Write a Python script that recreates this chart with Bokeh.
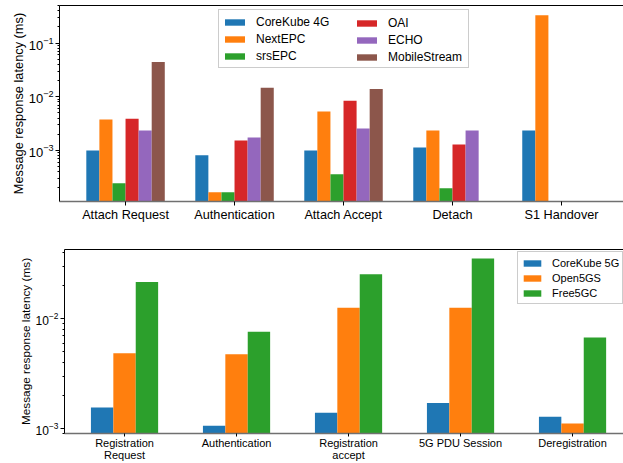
import numpy as np
from bokeh.plotting import figure
from bokeh.models import (ColumnDataSource, Range1d, FixedTicker, LinearAxis,
                          LogTickFormatter, Legend, LegendItem)
from bokeh.transform import dodge
from bokeh.embed import file_html
from bokeh.resources import INLINE

NaN = float("nan")

# ---- 4G data ----
procedures_4g = ["Attach Request", "Authentication", "Attach Accept", "Detach", "S1 Handover"]
corekube_4g = [1.0e-3, 8.1e-4, 1.0e-3, 1.14e-3, 2.35e-3]
nextepc = [3.75e-3, 1.67e-4, 5.3e-3, 2.35e-3, 0.33]
srsepc = [2.45e-4, 1.67e-4, 3.6e-4, 1.98e-4, NaN]
oai = [3.9e-3, 1.53e-3, 8.4e-3, 1.29e-3, NaN]
echo = [2.35e-3, 1.74e-3, 2.55e-3, 2.35e-3, NaN]
mobilestream = [0.0445, 0.0147, 0.014, NaN, NaN]
series_4g = ["CoreKube 4G", "NextEPC", "srsEPC", "OAI", "ECHO", "MobileStream"]

# ---- 5G data ----
procedures_5g = ["Registration\nRequest", "Authentication", "Registration\naccept",
                 "5G PDU Session", "Deregistration"]
corekube_5g = [1.55e-3, 1.06e-3, 1.39e-3, 1.71e-3, 1.28e-3]
open5gs = [4.84e-3, 4.74e-3, 0.0126, 0.0126, 1.11e-3]
free5gc = [0.0216, 7.6e-3, 0.0254, 0.0355, 6.75e-3]
series_5g = ["CoreKube 5G", "Open5GS", "Free5GC"]

colors = ["#1f77b4", "#ff7f0e", "#2ca02c", "#d62728", "#9467bd", "#8c564b"]
FONT = "Liberation Sans"

decades = [1e-5, 1e-4, 1e-3, 1e-2, 1e-1, 1.0]
minor = [k * d for d in decades for k in range(2, 10)]


def style(p, tick_size, label_size, ytick_size, labels, ylab_standoff, xtick_out,
          xlab_standoff):
    p.xgrid.visible = False
    p.ygrid.visible = False
    p.outline_line_color = None
    xa = p.xaxis[0]
    xa.ticker = FixedTicker(ticks=list(range(len(labels))))
    xa.major_label_overrides = {i: n for i, n in enumerate(labels)}
    xa.axis_line_color = "#707070"
    xa.axis_line_width = 1.6
    xa.major_tick_line_color = "black"
    xa.major_tick_out = xtick_out
    xa.major_tick_in = 0
    xa.minor_tick_line_color = None
    xa.major_label_text_font = FONT
    xa.major_label_text_font_size = tick_size
    xa.major_label_text_color = "black"
    xa.major_label_text_line_height = 1.0
    xa.major_label_standoff = xlab_standoff
    xa.axis_label_standoff = 0
    ya = p.yaxis[0]
    ya.ticker = FixedTicker(ticks=decades, minor_ticks=minor)
    ya.formatter = LogTickFormatter()
    ya.axis_line_color = "black"
    ya.major_tick_line_color = "black"
    ya.minor_tick_line_color = "black"
    ya.major_tick_out = 4
    ya.major_tick_in = 0
    ya.minor_tick_out = 2
    ya.minor_tick_in = 0
    ya.major_label_text_font = FONT
    ya.major_label_text_font_size = ytick_size
    ya.major_label_text_color = "black"
    ya.major_label_standoff = 2
    ya.axis_label = "Message response latency (ms)"
    ya.axis_label_text_font = FONT
    ya.axis_label_text_font_size = label_size
    ya.axis_label_text_font_style = "normal"
    ya.axis_label_text_color = "black"
    ya.axis_label_standoff = ylab_standoff
    top = LinearAxis(ticker=FixedTicker(ticks=[]), axis_line_color="black",
                     major_tick_line_color=None, minor_tick_line_color=None,
                     major_tick_out=0, major_tick_in=0, major_label_standoff=0,
                     axis_label_standoff=0)
    p.add_layout(top, "above")


def make_legend(items, loc, size, gw, gh, lh, pad, border=True, lw=20):
    return Legend(items=items, location=loc, label_text_font=FONT,
                  label_text_font_size=size, label_text_color="black",
                  glyph_width=gw, glyph_height=gh, label_standoff=9,
                  label_height=lh, label_width=lw, spacing=0, padding=pad, margin=0,
                  border_line_color="#cccccc",
                  border_line_alpha=1.0 if border else 0.0,
                  background_fill_color="white",
                  background_fill_alpha=0.8 if border else 0.0)


# ---------------- top figure ----------------
src4 = ColumnDataSource(dict(x=np.arange(len(procedures_4g)),
                             s0=corekube_4g, s1=nextepc, s2=srsepc,
                             s3=oai, s4=echo, s5=mobilestream))
p1 = figure(width=623, height=227, y_axis_type="log",
            x_range=Range1d(-0.606, 4.569), y_range=Range1d(1.12e-4, 0.50),
            output_backend="svg", toolbar_location=None,
            min_border_left=59, min_border_right=0, min_border_top=5,
            min_border_bottom=26)
bw4 = 0.12
rs4 = []
for i, name in enumerate(series_4g):
    r = p1.vbar(x=dodge("x", (i - 2.5) * bw4, range=p1.x_range), top="s%d" % i,
                bottom=1e-6, width=bw4, source=src4, fill_color=colors[i],
                line_color=None)
    rs4.append(r)
style(p1, "12.7px", "12.8px", "13px", procedures_4g, 0, 4, 2)
items_a = [LegendItem(label=series_4g[i], renderers=[rs4[i]]) for i in range(3)]
items_b = [LegendItem(label=series_4g[i], renderers=[rs4[i]]) for i in range(3, 6)]
p1.add_layout(make_legend(items_a, (159, 133), "12px", 25, 8, 17, 3,
                          border=True, lw=209))
p1.add_layout(make_legend(items_b, (292, 133), "12px", 25, 8, 17, 3,
                          border=False, lw=74))

# ---------------- bottom figure ----------------
src5 = ColumnDataSource(dict(x=np.arange(len(procedures_5g)),
                             s0=corekube_5g, s1=open5gs, s2=free5gc))
p2 = figure(width=623, height=236, y_axis_type="log",
            x_range=Range1d(-0.536, 4.455), y_range=Range1d(9.0e-4, 0.0428),
            output_backend="svg", toolbar_location=None,
            min_border_left=64, min_border_right=0, min_border_top=22,
            min_border_bottom=27)
bw5 = 0.2
rs5 = []
for i, name in enumerate(series_5g):
    r = p2.vbar(x=dodge("x", (i - 1) * bw5, range=p2.x_range), top="s%d" % i,
                bottom=1e-6, width=bw5, source=src5, fill_color=colors[i],
                line_color=None)
    rs5.append(r)
style(p2, "11px", "11.8px", "12px", procedures_5g, 0, 3, 0)
items_c = [LegendItem(label=series_5g[i], renderers=[rs5[i]]) for i in range(3)]
p2.add_layout(make_legend(items_c, (453, 129), "11px", 22, 8, 15, 3, border=True))

open("out.html", "w").write(file_html([p1, p2], INLINE))
